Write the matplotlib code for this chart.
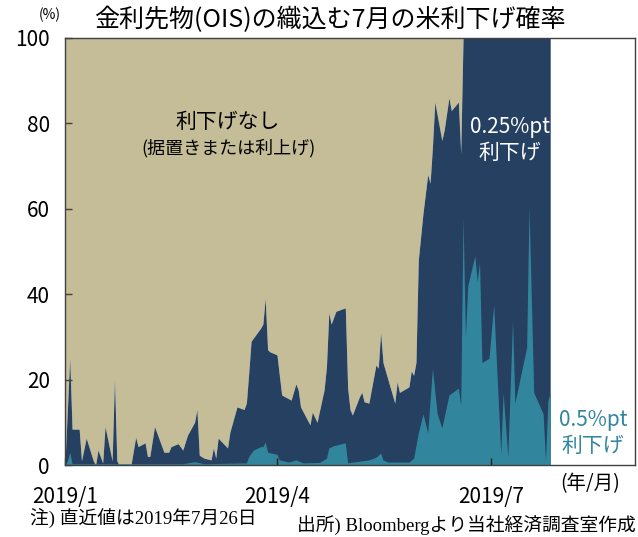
"""July Fed rate-cut probabilities implied by OIS, stacked area."""
import numpy as np
import matplotlib; matplotlib.use("Agg")
import matplotlib.pyplot as plt

plt.rcParams['font.family'] = ['Noto Sans CJK JP', 'DejaVu Sans']

# cumulative probability of any cut (0.25pt + 0.5pt), %
cut_dates = ['2019-01-01', '2019-01-03', '2019-01-04', '2019-01-07', '2019-01-08', '2019-01-10',
             '2019-01-13', '2019-01-14', '2019-01-15', '2019-01-17', '2019-01-18', '2019-01-21',
             '2019-01-22', '2019-01-23', '2019-01-24', '2019-01-29', '2019-01-31', '2019-02-01',
             '2019-02-04', '2019-02-05', '2019-02-06', '2019-02-08', '2019-02-12', '2019-02-14',
             '2019-02-15', '2019-02-18', '2019-02-20', '2019-02-22', '2019-02-25', '2019-02-26',
             '2019-02-27', '2019-03-01', '2019-03-04', '2019-03-05', '2019-03-06', '2019-03-07',
             '2019-03-11', '2019-03-12', '2019-03-15', '2019-03-18', '2019-03-19', '2019-03-20',
             '2019-03-21', '2019-03-25', '2019-03-26', '2019-03-27', '2019-03-28', '2019-03-29',
             '2019-04-01', '2019-04-02', '2019-04-03', '2019-04-07', '2019-04-09', '2019-04-10',
             '2019-04-11', '2019-04-15', '2019-04-16', '2019-04-17', '2019-04-18', '2019-04-21',
             '2019-04-22', '2019-04-23', '2019-04-24', '2019-04-26', '2019-04-30', '2019-05-01',
             '2019-05-02', '2019-05-03', '2019-05-06', '2019-05-07', '2019-05-08', '2019-05-10',
             '2019-05-13', '2019-05-14', '2019-05-15', '2019-05-16', '2019-05-21', '2019-05-22',
             '2019-05-23', '2019-05-27', '2019-05-28', '2019-05-29', '2019-05-30', '2019-05-31',
             '2019-06-02', '2019-06-04', '2019-06-05', '2019-06-06', '2019-06-07', '2019-06-10',
             '2019-06-11', '2019-06-13', '2019-06-14', '2019-06-17', '2019-06-18', '2019-06-19',
             '2019-07-26']
cut_total = [0.5, 25, 8.4, 8.4, 1, 6.3,
             1, 0, 3.5, 0.5, 9, 1,
             20, 1, 0, 0, 6.5, 4.3,
             5.2, 2, 2, 9, 3, 3,
             4.3, 5, 3.5, 7, 10, 13,
             2.3, 1.6, 1.2, 4, 1.6, 6.3,
             4, 7.7, 13.6, 13, 14.5, 21.5,
             29, 32, 33, 39, 27, 26.5,
             25.8, 21, 16.4, 15.2, 19, 17.6,
             13.6, 9.4, 12.4, 11.2, 10, 17.6,
             23, 35.6, 33, 36, 36.8, 18,
             13, 11.7, 16, 17, 14.8, 14.5,
             23.4, 22.7, 31, 24, 14.5, 19.4,
             17, 18.3, 22, 21, 24, 48,
             59, 68, 66, 74.5, 85, 76,
             78.5, 86, 83, 85, 73, 100,
             100]

# probability of a 0.5pt cut, %
half_dates = ['2019-01-01', '2019-01-02', '2019-01-03', '2019-01-04', '2019-02-20', '2019-02-25',
              '2019-03-01', '2019-03-19', '2019-03-20', '2019-03-22', '2019-03-25', '2019-03-26',
              '2019-03-27', '2019-03-28', '2019-04-01', '2019-04-02', '2019-04-06', '2019-04-09',
              '2019-04-12', '2019-04-19', '2019-04-22', '2019-04-23', '2019-04-25', '2019-04-30',
              '2019-05-01', '2019-05-10', '2019-05-13', '2019-05-15', '2019-05-16', '2019-05-18',
              '2019-05-27', '2019-05-29', '2019-05-31', '2019-06-02', '2019-06-04', '2019-06-06',
              '2019-06-08', '2019-06-10', '2019-06-13', '2019-06-17', '2019-06-18', '2019-06-19',
              '2019-06-20', '2019-06-21', '2019-06-24', '2019-06-25', '2019-06-26', '2019-06-27',
              '2019-06-30', '2019-07-02', '2019-07-03', '2019-07-05', '2019-07-06', '2019-07-08',
              '2019-07-10', '2019-07-11', '2019-07-16', '2019-07-17', '2019-07-19', '2019-07-23',
              '2019-07-24', '2019-07-25', '2019-07-26']
half_cut = [0, 1, 3, 0.3, 0.3, 0.8,
            0.3, 0.5, 2, 3.5, 4.3, 4.3,
            5.4, 3, 2.5, 1.2, 0.7, 1.2,
            0.5, 0.6, 1.6, 4, 4.5, 5.2,
            0.5, 1.2, 1.8, 2.8, 1.2, 0.7,
            0.7, 1.6, 7.5, 12, 7.5, 22.7,
            12, 8.7, 16.4, 18, 14, 58,
            30, 42, 49, 43, 47.5, 24,
            25, 37.5, 26, 2.8, 17, 2,
            34, 14.5, 27.6, 60.5, 17, 12,
            1, 15, 17]

tick_dates = ['2019-01-01', '2019-04-01', '2019-07-01']
tick_labels = ['2019/1', '2019/4', '2019/7']

KHAKI, NAVY, TEAL = '#C4BD97', '#254061', '#31859C'

cd = np.array(cut_dates, dtype='datetime64[D]')
hd = np.array(half_dates, dtype='datetime64[D]')

fig = plt.figure(figsize=(6.38, 5.37), dpi=100)
ax = fig.add_axes([65 / 638, 72 / 537, 570 / 638, 427 / 537])

ax.fill_between(cd, cut_total, 100, color=KHAKI, lw=0)
ax.fill_between(cd, 0, cut_total, color=NAVY, lw=0)
ax.fill_between(hd, 0, half_cut, color=TEAL, lw=0)

ax.set_xlim(np.datetime64('2019-01-01'), np.datetime64('2019-08-31'))
ax.set_ylim(0, 100)
ax.set_yticks([0, 20, 40, 60, 80, 100])
ax.set_xticks(np.array(tick_dates, dtype='datetime64[D]'))
ax.set_xticklabels(tick_labels)
ax.tick_params(axis='y', direction='in', length=5, width=1, pad=11, labelsize=15, color='#404040')
ax.tick_params(axis='x', direction='in', length=5, width=1, pad=15, labelsize=15, color='#202020')
for s in ax.spines.values():
    s.set_color('#404040'); s.set_linewidth(1)

fig.text(0.517, 0.962, '金利先物(OIS)の織込む7月の米利下げ確率', ha='center', va='center', fontsize=18)
fig.text(0.078, 0.972, '(%)', ha='center', va='center', fontsize=10)

ax.text(0.286, 0.803, '利下げなし', transform=ax.transAxes, ha='center', va='center', fontsize=15)
ax.text(0.286, 0.742, '(据置きまたは利上げ)', transform=ax.transAxes, ha='center', va='center', fontsize=13)
ax.text(0.781, 0.792, '0.25%pt', transform=ax.transAxes, ha='center', va='center', fontsize=15, color='white')
ax.text(0.781, 0.731, '利下げ', transform=ax.transAxes, ha='center', va='center', fontsize=15, color='white')
ax.text(0.926, 0.105, '0.5%pt', transform=ax.transAxes, ha='center', va='center', fontsize=15, color=TEAL)
ax.text(0.926, 0.044, '利下げ', transform=ax.transAxes, ha='center', va='center', fontsize=15, color=TEAL)

fig.text(0.925, 0.099, '(年/月)', ha='center', va='center', fontsize=14)
serif = ['Liberation Serif', 'Noto Sans CJK JP']
fig.text(0.047, 0.035, '注) 直近値は2019年7月26日', ha='left', va='center', fontsize=13.5, family=serif)
fig.text(0.997, 0.020, '出所) Bloombergより当社経済調査室作成', ha='right', va='center', fontsize=13.5, family=serif)

fig.savefig('out.png', dpi=100)
